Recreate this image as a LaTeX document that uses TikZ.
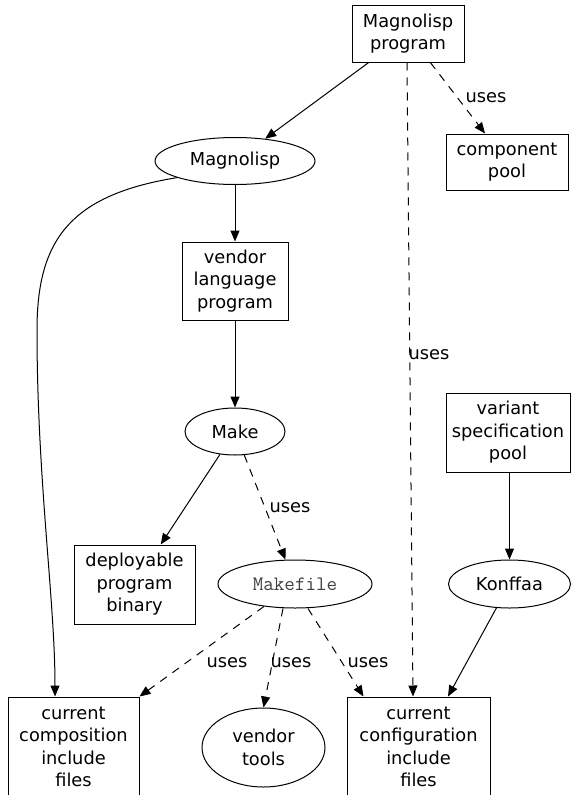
\documentclass[tikz,border=0pt]{standalone}
\usepackage{fontspec}
\setmainfont{DejaVu Sans}
\usetikzlibrary{shapes.geometric,arrows.meta,calc}
\begin{document}
\begin{tikzpicture}[x=1pt,y=-1pt,
  every node/.style={font=\fontsize{17.8}{22.5}\selectfont, align=center, inner sep=0pt},
  box/.style={draw, line width=1pt, rectangle, minimum width=#1},
  ell/.style={draw, line width=1pt, ellipse},
  lbl/.style={},
  arr/.style={line width=1pt, -{Triangle[length=11pt,width=9pt]}},
  dsh/.style={arr, dash pattern=on 8pt off 7pt}
]
\useasboundingbox (0,0) rectangle (571,795);
\clip (0,0) rectangle (571,795);
% nodes
\node[box=112, minimum height=57] (prog) at (408,33.5) {Magnolisp\\program};
\node[ell, minimum width=160, minimum height=47] (mag) at (235,161) {Magnolisp};
\node[box=122, minimum height=56] (pool) at (507,162) {component\\pool};
\node[box=106, minimum height=78] (vlp) at (235,281) {vendor\\language\\program};
\node[ell, minimum width=100, minimum height=47] (make) at (235,431.5) {Make};
\node[box=124, minimum height=79] (var) at (508,432.5) {variant\\specification\\pool};
\node[box=121, minimum height=79] (dep) at (134.5,584.5) {deployable\\program\\binary};
\node[ell, minimum width=154, minimum height=48] (mf) at (295,584) {\fontsize{20.5}{22.5}\selectfont\ttfamily\color{black!75}Makefile};
\node[ell, minimum width=122, minimum height=48] (konf) at (509.5,584) {Konffaa};
\node[box=131, minimum height=100] (comp) at (73.5,747) {current\\composition\\include\\files};
\node[ell, minimum width=123, minimum height=79] (vt) at (263.5,747.5) {vendor\\tools};
\node[box=143, minimum height=100] (conf) at (418.5,747) {current\\configuration\\include\\files};
% labels
\node[lbl] (u1) at (486,98) {uses};
\node[lbl] (u2) at (429,355) {uses};
\node[lbl] (u3) at (290,508) {uses};
\node[lbl] (u4) at (227,663) {uses};
\node[lbl] (u5) at (291,663) {uses};
\node[lbl] (u6) at (368,663) {uses};
% edges
\draw[arr] (prog) -- (mag);
\draw[dsh] (prog) -- (pool);
\draw[dsh] ($(prog.south)+(-1,0)$) -- ($(conf.north)+(-5.5,0)$);
\draw[arr] (mag) -- (vlp);
\draw[arr] (vlp) -- (make);
\draw[arr] (make) -- (dep);
\draw[dsh] (make) -- (mf);
\draw[arr] (var.south -| konf.north) -- (konf.north);
\draw[arr] (konf) -- (conf.north -| 448,0);
\draw[dsh] (mf) -- (comp.north east);
\draw[dsh] ($(mf.south)+(-12,0)$) -- (vt.north);
\draw[dsh] ($(mf.south)+(13,0)$) -- ($(conf.north)+(-55,0)$);
\draw[arr] (mag.196) .. controls (70,195) and (37,240) .. (37,330)
  .. controls (37,480) and (55,600) .. (comp.north -| 55,0);
\end{tikzpicture}
\end{document}
